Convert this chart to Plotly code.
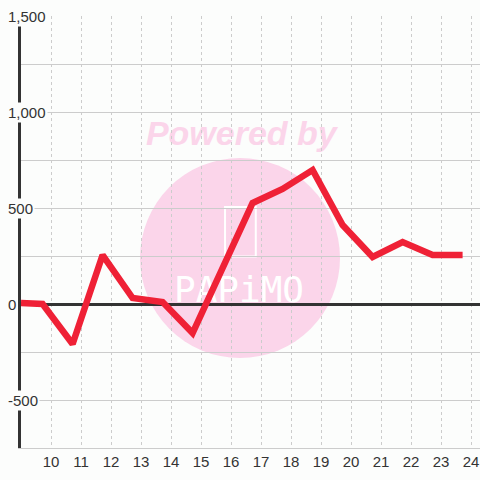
import plotly.graph_objects as go

# Data
x_vals = [9.0, 9.72, 10.72, 11.72, 12.72, 13.72, 14.72, 15.72, 16.72, 17.72,
          18.72, 19.72, 20.72, 21.72, 22.72, 23.72]
y_vals = [5, 0, -208, 255, 31, 10, -151, 180, 526, 599, 698, 411, 245, 323, 255, 255]

x_ticks = list(range(10, 25))
y_grid = [-750, -500, -250, 0, 250, 500, 750, 1000, 1250, 1500]
y_labels = [-500, 0, 500, 1000, 1500]

BG = "#fcfdfc"
TXT = "#333333"
GRID = "#cccccc"
RED = "#ef2136"
PINK = "#fbd5ea"
FONT = "Liberation Sans, Arial, sans-serif"

fig = go.Figure()
fig.add_trace(go.Scatter(
    x=x_vals, y=y_vals, mode="lines",
    line=dict(color=RED, width=6.5),
    hoverinfo="skip", showlegend=False,
))

# watermark (below grid and traces)
shapes = [
    dict(type="circle", xref="paper", yref="paper",
         x0=0.2593, x1=0.6950, y0=0.2083, y1=0.6713,
         fillcolor=PINK, line=dict(width=0), layer="below"),
    dict(type="rect", xref="paper", yref="paper",
         x0=0.4445, x1=0.5115, y0=0.443, y1=0.558,
         fillcolor="rgba(0,0,0,0)", line=dict(color="white", width=2), layer="below"),
    dict(type="rect", xref="paper", yref="paper",
         x0=0.28, x1=0.68, y0=0.70, y1=0.77,
         fillcolor="rgba(0,0,0,0)", line=dict(width=0), layer="below",
         label=dict(text="<b><i>Powered by</i></b>", textposition="middle center",
                    font=dict(family=FONT, size=34, color=PINK))),
    dict(type="rect", xref="paper", yref="paper",
         x0=0.33, x1=0.62, y0=0.34, y1=0.41,
         fillcolor="rgba(0,0,0,0)", line=dict(width=0), layer="below",
         label=dict(text="PAPiMO", textposition="middle center",
                    font=dict(family="DejaVu Sans Mono, monospace", size=36, color="white"))),
]

annotations = []
for v in y_labels:
    annotations.append(dict(
        x=0, xref="paper", y=v, yref="y", xanchor="left", yanchor="middle",
        xshift=-15, text=f"{v:,}", showarrow=False,
        font=dict(family=FONT, size=15, color=TXT),
        bgcolor=BG, borderpad=1,
    ))

fig.update_layout(
    width=480, height=480,
    margin=dict(l=21, r=0, t=16, b=32),
    paper_bgcolor=BG, plot_bgcolor=BG,
    showlegend=False,
    shapes=shapes,
    annotations=annotations,
    font=dict(family=FONT, size=15, color=TXT),
    xaxis=dict(
        range=[9, 24.3], tickmode="array", tickvals=x_ticks,
        ticktext=[str(t) for t in x_ticks],
        showgrid=True, gridcolor=GRID, griddash="3px,3px", gridwidth=1,
        zeroline=False, showline=True, linecolor=GRID, linewidth=1,
        ticks="", tickfont=dict(family=FONT, size=15, color=TXT),
        fixedrange=True,
    ),
    yaxis=dict(
        range=[-750, 1500], tickmode="array", tickvals=y_grid,
        showticklabels=False,
        showgrid=True, gridcolor=GRID, gridwidth=1,
        zeroline=True, zerolinecolor=TXT, zerolinewidth=3,
        showline=True, linecolor=TXT, linewidth=3,
        ticks="", fixedrange=True,
    ),
)

fig.write_html(
    "out.html",
    config={"displayModeBar": False, "staticPlot": True},
    post_script="document.body.style.margin='0';document.body.style.padding='0';",
)
